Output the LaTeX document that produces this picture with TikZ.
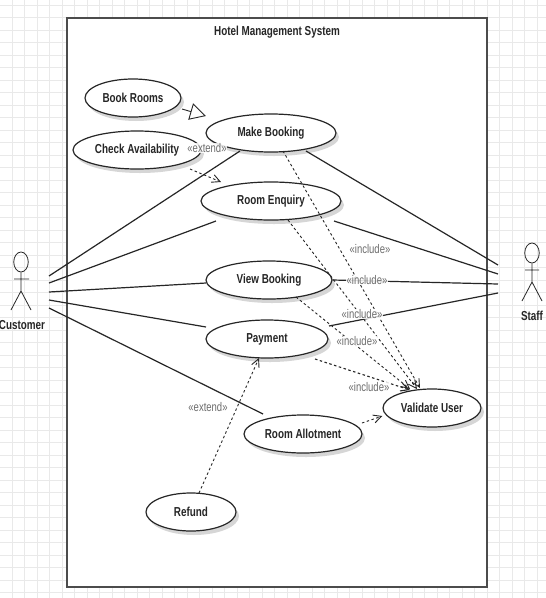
\documentclass[tikz,border=0pt]{standalone}
\usepackage{fontspec}
\setmainfont[FakeStretch=0.76]{Liberation Sans}
\usetikzlibrary{shapes.geometric,shadows,calc,arrows.meta}
\definecolor{ink}{HTML}{262626}
\definecolor{gridc}{HTML}{E9E9E9}
\newcommand{\dropped}[1]{\raisebox{-1pt}{#1}}
\tikzset{
  x=1pt,y=-1pt,
  usecase/.style={ellipse,draw=ink,line width=1.2pt,fill=white,inner sep=0pt,
    minimum width=2*#1 pt,minimum height=38pt,font=\fontsize{13}{15}\selectfont\bfseries,text=ink,
    general shadow={shadow xshift=3pt,shadow yshift=-4pt,fill=black!16}},
  actorline/.style={draw=ink,line width=0.8pt},
  assoc/.style={draw=ink,line width=1.2pt},
  dep/.style={draw=ink,line width=0.9pt,dash pattern=on 2.5pt off 2.5pt,-{Straight Barb[length=8pt,width=8pt]}},
  stereo/.style={font=\fontsize{12.5}{14}\selectfont,text=gray!85!black,fill=white,fill opacity=0.85,text opacity=1,inner sep=0.5pt},
  actorlabel/.style={font=\fontsize{13}{15}\selectfont\bfseries,text=ink,inner sep=0pt},
}
\begin{document}
\begin{tikzpicture}
\useasboundingbox (0,0) rectangle (546,598);
\fill[white] (0,0) rectangle (546,598);
\foreach \i in {0,...,43} {\draw[gridc,line width=0.5pt] ({12+12.5*\i},0) -- ({12+12.5*\i},598);}
\foreach \i in {0,...,47} {\draw[gridc,line width=0.5pt] (0,{5+12.5*\i}) -- (546,{5+12.5*\i});}
\node[draw=black!70,line width=1.1pt,fill=white,minimum width=420pt,minimum height=569pt,inner sep=0pt] (sys) at (277,302.5) {};
\node[font=\fontsize{13}{15}\selectfont\bfseries,text=ink,inner sep=0pt] (title) at (277,32) {Hotel Management System};

\node[usecase=48] (br) at (133,98) {\dropped{Book Rooms}};
\node[usecase=64] (ca) at (137,150) {\dropped{Check Availability}};
\node[usecase=65] (mb) at (271,133) {\dropped{Make Booking}};
\node[usecase=70] (re) at (271,201) {\dropped{Room Enquiry}};
\node[usecase=63] (vb) at (269,280) {\dropped{View Booking}};
\node[usecase=61] (pa) at (267,339) {\dropped{Payment}};
\node[usecase=59] (ra) at (303,434) {\dropped{Room Allotment}};
\node[usecase=49] (vu) at (432,408) {\dropped{Validate User}};
\node[usecase=45] (rf) at (191,512) {\dropped{Refund}};

% actors
\node[draw=ink,line width=0.8pt,ellipse,minimum width=14.5pt,minimum height=20pt,inner sep=0pt] (cuh) at (21,262) {};
\coordinate (cub) at (21,291);
\coordinate (cual) at (14,279);
\coordinate (cuar) at (29,279);
\coordinate (cull) at (11,310);
\coordinate (culr) at (31,310);
\draw[actorline] (cuh.south) -- (cub) (cual) -- (cuar) (cull) -- (cub) -- (culr);
\node[actorlabel] (cu) at (22,325) {Customer};

\node[draw=ink,line width=0.8pt,ellipse,minimum width=14.5pt,minimum height=20pt,inner sep=0pt] (sth) at (532,253) {};
\coordinate (stb) at (532,282);
\coordinate (stal) at (525,270);
\coordinate (star) at (539,270);
\coordinate (stll) at (522,301);
\coordinate (stlr) at (542,301);
\draw[actorline] (sth.south) -- (stb) (stal) -- (star) (stll) -- (stb) -- (stlr);
\node[actorlabel] (st) at (532,316) {Staff};

% actor ports
\coordinate (c1) at (49,276);
\coordinate (c2) at (49,283);
\coordinate (c3) at (49,292);
\coordinate (c4) at (49,300);
\coordinate (c5) at (49,308);
\coordinate (s1) at (498,265);
\coordinate (s2) at (498,274);
\coordinate (s3) at (498,284);
\coordinate (s4) at (498,293);

% associations
\draw[assoc] (c1) -- ($(mb)+(-31,18)$);
\draw[assoc] (c2) -- ($(re)+(-55,20)$);
\draw[assoc] (c3) -- ($(vb)+(-63,3)$);
\draw[assoc] (c4) -- ($(pa)+(-61,-12)$);
\draw[assoc] (c5) -- ($(ra)+(-40,-20)$);
\draw[assoc] (s1) -- ($(mb)+(35,18)$);
\draw[assoc] (s2) -- ($(re)+(63,20)$);
\draw[assoc] (s3) -- (vb.east);
\draw[assoc] (s4) -- ($(pa)+(62,-13)$);

% dependencies
\draw[dep] ($(mb)+(12,18)$) -- ($(vu)+(-12,-20)$);
\draw[dep] ($(re)+(17,19)$) -- ($(vu)+(-15,-19)$);
\draw[dep] ($(vb)+(27,17)$) -- ($(vu)+(-22,-19)$);
\draw[dep,line width=1.1pt] ($(pa)+(48,20)$) -- ($(vu)+(-22,-18)$);
\draw[dep] ($(ra)+(59,-11)$) -- (vu.west |- 0,416);
\draw[dep] ($(rf)+(8,-19)$) -- ($(pa)+(-8,19)$);
\draw[dep] ($(ca)+(53,19)$) -- ($(re)+(-50,-19)$);
% generalisation
\draw[assoc,line width=0.9pt,-{Triangle[open,length=16pt,width=17pt,fill=white]}] ($(br)+(49,11)$) -- ($(mb)+(-65,-17)$);

% labels
\node[stereo] (l1) at (207,148) {«extend»};
\node[stereo] (l2) at (370,249) {«include»};
\node[stereo] (l3) at (367,280) {«include»};
\node[stereo] (l4) at (362,314) {«include»};
\node[stereo] (l5) at (357,341) {«include»};
\node[stereo] (l6) at (369,387) {«include»};
\node[stereo] (l7) at (208,407) {«extend»};
\end{tikzpicture}
\end{document}
